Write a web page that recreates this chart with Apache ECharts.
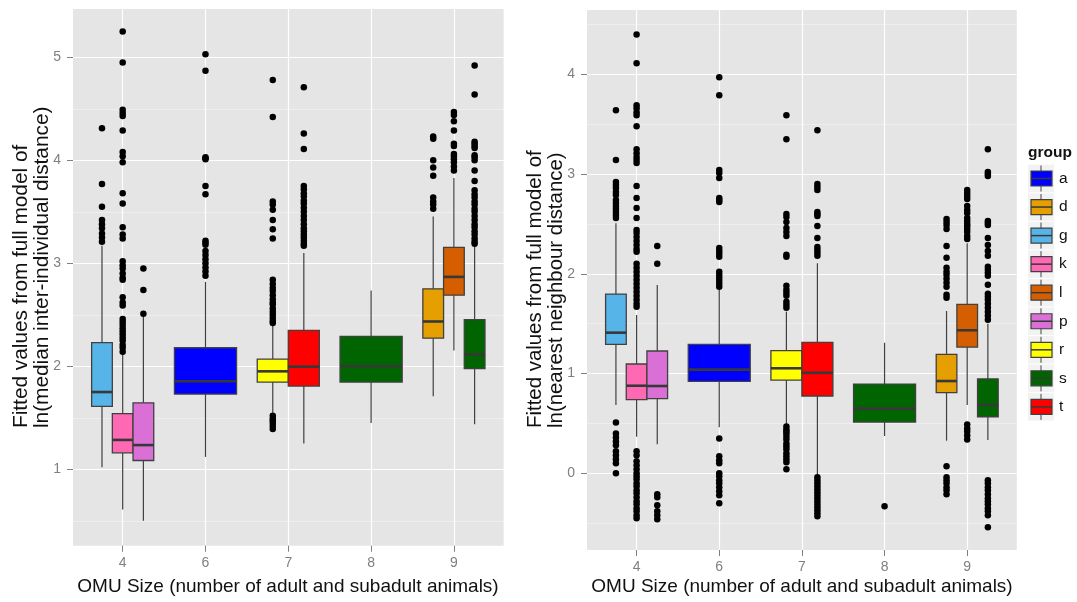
<!DOCTYPE html>
<html>
<head>
<meta charset="utf-8">
<script src="https://cdn.jsdelivr.net/npm/echarts@6/dist/echarts.min.js"></script>
<style>
  html, body { margin: 0; padding: 0; background: #ffffff; }
  #chart { width: 1077px; height: 602px; }
</style>
</head>
<body>
<div id="chart"></div>
<script>
// OMU sizes on the x axis and the groups shown in the legend
const sizes = ['4', '6', '7', '8', '9'];
const groups = ['a', 'd', 'g', 'k', 'l', 'p', 'r', 's', 't'];
const groupColors = ['#0000FF', '#E69F00', '#56B4E9', '#FF69B4', '#D55E00',
                     '#DA70D6', '#FFFF00', '#006400', '#FF0000'];

// one box per (size, group) pair, same order in both panels
const boxSize  = ['4', '4', '4', '6', '7', '7', '8', '9', '9', '9'];
const boxGroup = ['g', 'k', 'p', 'a', 'r', 't', 's', 'd', 'l', 's'];

// ln(median inter-individual distance): [lower whisker, Q1, median, Q3, upper whisker]
const interStats = [
  [1.02, 1.61, 1.75, 2.23, 3.17],
  [0.61, 1.16, 1.285, 1.54, 2.12],
  [0.50, 1.085, 1.235, 1.645, 2.48],
  [1.12, 1.73, 1.855, 2.18, 2.82],
  [1.55, 1.847, 1.951, 2.07, 2.39],
  [1.25, 1.808, 1.996, 2.348, 3.10],
  [1.45, 1.847, 2.0, 2.29, 2.735],
  [1.71, 2.273, 2.435, 2.752, 3.455],
  [2.154, 2.69, 2.868, 3.155, 3.827],
  [1.437, 1.977, 2.115, 2.454, 3.165]
];
const interOutliers = [
  [4.31, 3.77, 3.55, 3.42, 3.38, 3.34, 3.29, 3.25, 3.21],
  [5.25, 4.95, 4.49, 4.46, 4.43, 4.29, 4.08, 4.04, 3.98, 3.68, 3.58, 3.35, 3.28, 3.24,
   3.02, 2.98, 2.95, 2.9, 2.86, 2.84, 2.67, 2.62, 2.59, 2.46, 2.43, 2.4, 2.37, 2.34,
   2.31, 2.28, 2.25, 2.21, 2.18, 2.14],
  [2.95, 2.74, 2.51],
  [5.03, 4.87, 4.03, 4.02, 4.01, 3.75, 3.67, 3.22, 3.2, 3.18, 3.12, 3.08, 3.04, 3.0,
   2.96, 2.92, 2.88],
  [4.78, 4.42, 3.6, 3.57, 3.52, 3.42, 3.33, 3.24, 2.84, 2.8, 2.76, 2.73, 2.69, 2.65,
   2.62, 2.6, 2.56, 2.53, 2.5, 2.47, 2.44, 2.42, 1.52, 1.49, 1.47, 1.45, 1.42, 1.39],
  [4.71, 4.26, 4.11, 3.75, 3.72, 3.68, 3.65, 3.61, 3.58, 3.54, 3.5, 3.46, 3.42, 3.38,
   3.34, 3.31, 3.28, 3.25, 3.22, 3.19, 3.17],
  [],
  [4.23, 4.21, 4.0, 3.93, 3.85, 3.64, 3.6, 3.57, 3.53],
  [4.47, 4.44, 4.38, 4.29, 4.16, 4.14, 4.06, 4.04, 4.01, 3.98, 3.94, 3.9],
  [4.92, 4.64, 4.18, 4.16, 4.14, 4.12, 4.05, 4.03, 4.0, 3.9, 3.8, 3.71, 3.67, 3.64,
   3.6, 3.57, 3.53, 3.5, 3.46, 3.42, 3.38, 3.35, 3.31, 3.28, 3.24, 3.21, 3.19]
];

// ln(nearest neighbour distance)
const nearStats = [
  [0.685, 1.293, 1.41, 1.797, 2.506],
  [0.367, 0.738, 0.878, 1.096, 1.587],
  [0.291, 0.748, 0.875, 1.226, 1.888],
  [0.461, 0.922, 1.039, 1.293, 1.84],
  [0.484, 0.935, 1.053, 1.229, 1.62],
  [-0.02, 0.775, 1.008, 1.313, 2.105],
  [0.374, 0.514, 0.648, 0.895, 1.309],
  [0.327, 0.808, 0.925, 1.193, 1.627],
  [0.685, 1.266, 1.434, 1.694, 2.306],
  [0.334, 0.567, 0.685, 0.946, 1.5]
];
const nearOutliers = [
  [3.64, 3.14, 2.92, 2.89, 2.86, 2.82, 2.79, 2.74, 2.71, 2.68, 2.65, 2.62, 2.59, 2.56,
   0.51, 0.4, 0.36, 0.32, 0.28, 0.22, 0.18, 0.14, 0.1, 0.0],
  [4.4, 4.11, 3.69, 3.66, 3.62, 3.59, 3.48, 3.25, 3.21, 3.17, 3.14, 3.11, 2.88, 2.76,
   2.66, 2.56, 2.44, 2.41, 2.37, 2.33, 2.29, 2.25, 2.22, 2.1, 2.06, 2.02, 1.98, 1.94,
   1.9, 1.86, 1.82, 1.78, 1.74, 1.7, 1.67, 0.22, 0.18, 0.12, 0.08, 0.04, 0.0, -0.03,
   -0.06, -0.1, -0.13, -0.17, -0.2, -0.24, -0.28, -0.31, -0.35, -0.38, -0.42, -0.45],
  [2.28, 2.1, -0.21, -0.24, -0.32, -0.38, -0.42, -0.46],
  [3.97, 3.79, 3.04, 3.01, 2.96, 2.76, 2.74, 2.72, 2.26, 2.23, 2.2, 2.17, 2.02, 1.99,
   1.96, 1.93, 1.9, 1.87, 0.35, 0.17, 0.13, 0.1, 0.0, -0.03, -0.07, -0.1, -0.14, -0.18,
   -0.22, -0.3],
  [3.59, 3.35, 2.6, 2.57, 2.52, 2.46, 2.42, 2.38, 2.19, 2.17, 1.88, 1.84, 1.81, 1.78,
   1.72, 1.69, 1.66, 0.47, 0.44, 0.42, 0.4, 0.37, 0.34, 0.3, 0.27, 0.24, 0.2, 0.17,
   0.14, 0.11, 0.04],
  [3.44, 2.9, 2.87, 2.84, 2.62, 2.6, 2.58, 2.48, 2.36, 2.27, 2.24, 2.21, 2.18, -0.04,
   -0.07, -0.1, -0.13, -0.16, -0.19, -0.22, -0.25, -0.28, -0.31, -0.34, -0.37, -0.4, -0.43],
  [-0.33],
  [2.55, 2.52, 2.49, 2.45, 2.28, 2.16, 2.06, 2.02, 1.99, 1.95, 1.91, 1.87, 1.79, 1.76,
   0.07, -0.04, -0.07, -0.1, -0.14, -0.17, -0.21],
  [2.84, 2.81, 2.78, 2.75, 2.68, 2.64, 2.61, 2.56, 2.53, 2.5, 2.48, 2.45, 2.42, 2.38,
   2.35, 0.49, 0.45, 0.42, 0.38, 0.34],
  [3.25, 3.02, 3.0, 2.98, 2.53, 2.51, 2.49, 2.36, 2.29, 2.23, 2.18, 2.07, 2.04, 2.01,
   1.98, 1.89, 1.8, 1.77, 1.74, 1.7, 1.66, 1.62, 1.58, 1.54, -0.07, -0.1, -0.14, -0.17,
   -0.21, -0.25, -0.28, -0.31, -0.35, -0.38, -0.42, -0.54]
];

// axis breaks
const interTicks = [1, 2, 3, 4, 5];
const interMinorTicks = [0.5, 1.5, 2.5, 3.5, 4.5];
const nearTicks = [0, 1, 2, 3, 4];
const nearMinorTicks = [-0.5, 0.5, 1.5, 2.5, 3.5, 4.5];
const sizeTicks = [1, 2, 3, 4, 5];

const FONT = "'Liberation Sans', Arial, sans-serif";
const DODGE_WIDTH = 0.75;

// position of a box inside its size slot, ggplot-style dodging
function dodge(i) {
  const members = [];
  boxSize.forEach(function (s, j) { if (s === boxSize[i]) members.push(j); });
  const n = members.length;
  const k = members.indexOf(i);
  const w = DODGE_WIDTH / n;
  const x = sizes.indexOf(boxSize[i]) + 1 - DODGE_WIDTH / 2 + w * (k + 0.5);
  return { x: x, w: w };
}

function colorOf(g) { return groupColors[groups.indexOf(g)]; }

function renderBox(params, api) {
  const x = api.value(0);
  const w = api.value(6);
  const lo = api.coord([x, api.value(1)]);
  const q1 = api.coord([x, api.value(2)]);
  const md = api.coord([x, api.value(3)]);
  const q3 = api.coord([x, api.value(4)]);
  const hi = api.coord([x, api.value(5)]);
  const xl = api.coord([x - w / 2, api.value(3)])[0];
  const xr = api.coord([x + w / 2, api.value(3)])[0];
  const cx = lo[0];
  const whisker = { stroke: '#404040', lineWidth: 1.2 };
  return {
    type: 'group',
    children: [
      { type: 'line', shape: { x1: cx, y1: hi[1], x2: cx, y2: q3[1] }, style: whisker },
      { type: 'line', shape: { x1: cx, y1: q1[1], x2: cx, y2: lo[1] }, style: whisker },
      { type: 'rect', shape: { x: xl, y: q3[1], width: xr - xl, height: q1[1] - q3[1] },
        style: { fill: api.visual('color'), stroke: '#404040', lineWidth: 1.3 } },
      { type: 'line', shape: { x1: xl, y1: md[1], x2: xr, y2: md[1] },
        style: { stroke: '#383838', lineWidth: 2.6 } }
    ]
  };
}

function panelSeries(stats, outliers, xIndex, yIndex) {
  const boxes = stats.map(function (st, i) {
    const d = dodge(i);
    return { value: [d.x].concat(st).concat([d.w]), itemStyle: { color: colorOf(boxGroup[i]) } };
  });
  const points = [];
  outliers.forEach(function (arr, i) {
    const d = dodge(i);
    arr.forEach(function (v) { points.push([d.x, v]); });
  });
  return [
    { type: 'custom', xAxisIndex: xIndex, yAxisIndex: yIndex, renderItem: renderBox,
      data: boxes, encode: { x: 0, y: [1, 2, 3, 4, 5] }, z: 3, silent: true },
    { type: 'scatter', xAxisIndex: xIndex, yAxisIndex: yIndex, data: points,
      symbol: 'circle', symbolSize: 6.5, itemStyle: { color: '#000000', opacity: 1 },
      z: 4, silent: true }
  ];
}

function sizeAxis(gridIndex) {
  return {
    type: 'value', gridIndex: gridIndex, min: 0.4, max: 5.6, position: 'bottom',
    axisLine: { show: false, onZero: false },
    axisTick: { show: true, length: 6, customValues: sizeTicks,
                lineStyle: { color: '#7F7F7F', width: 1 } },
    axisLabel: { show: true, customValues: sizeTicks, margin: 10,
                 color: '#7F7F7F', fontSize: 14, fontFamily: FONT,
                 formatter: function (v) { return sizes[Math.round(v) - 1]; } },
    splitLine: { show: true, lineStyle: { color: '#FFFFFF', width: 1.2 } }
  };
}

function valueAxis(gridIndex, min, max, ticks) {
  return {
    type: 'value', gridIndex: gridIndex, min: min, max: max, position: 'left',
    axisLine: { show: false, onZero: false },
    axisTick: { show: true, length: 6, customValues: ticks,
                lineStyle: { color: '#7F7F7F', width: 1 } },
    axisLabel: { show: true, customValues: ticks, margin: 12,
                 color: '#7F7F7F', fontSize: 14, fontFamily: FONT },
    splitLine: { show: true, lineStyle: { color: '#FFFFFF', width: 1.2 } }
  };
}

function minorAxis(gridIndex, min, max, ticks) {
  return {
    type: 'value', gridIndex: gridIndex, min: min, max: max, position: 'right',
    axisLine: { show: false, onZero: false },
    axisTick: { show: false, customValues: ticks },
    axisLabel: { show: false, customValues: ticks },
    splitLine: { show: true, lineStyle: { color: '#F2F2F2', width: 0.7 } }
  };
}

// axis titles
const titleStyle = { fill: '#111111', fontSize: 19, fontFamily: FONT };
const yTitleStyle = { fill: '#111111', fontSize: 20, fontFamily: FONT,
                      align: 'left', verticalAlign: 'middle' };
const graphics = [
  { type: 'text', x: 288, y: 587, style: Object.assign({ text: 'OMU Size (number of adult and subadult animals)',
      align: 'center', verticalAlign: 'middle' }, titleStyle) },
  { type: 'text', x: 802, y: 587, style: Object.assign({ text: 'OMU Size (number of adult and subadult animals)',
      align: 'center', verticalAlign: 'middle' }, titleStyle) },
  { type: 'text', x: 21, y: 428, rotation: Math.PI / 2, scaleX: 1.04,
    style: Object.assign({ text: 'Fitted values from full model of' }, yTitleStyle) },
  { type: 'text', x: 42, y: 428, rotation: Math.PI / 2, scaleX: 1.04,
    style: Object.assign({ text: 'ln(median inter-individual distance)' }, yTitleStyle) },
  { type: 'text', x: 535, y: 428, rotation: Math.PI / 2, scaleX: 1.02,
    style: Object.assign({ text: 'Fitted values from full model of' }, yTitleStyle) },
  { type: 'text', x: 556, y: 428, rotation: Math.PI / 2, scaleX: 1.02,
    style: Object.assign({ text: 'ln(nearest neighbour distance)' }, yTitleStyle) },
  { type: 'text', x: 1028, y: 153, style: { text: 'group', fontSize: 15.5, fontWeight: 'bold',
      fontFamily: FONT, fill: '#111111', align: 'left', verticalAlign: 'middle' } }
];

// legend keys drawn as small boxplot glyphs
groups.forEach(function (g, i) {
  const cy = 178.5 + i * 28.55;
  graphics.push(
    { type: 'rect', shape: { x: 1028, y: cy - 13.8, width: 26, height: 27.6 }, style: { fill: '#F2F2F2' } },
    { type: 'line', shape: { x1: 1041, y1: cy - 13, x2: 1041, y2: cy + 13 }, style: { stroke: '#454545', lineWidth: 1 } },
    { type: 'rect', shape: { x: 1031, y: cy - 7.5, width: 21, height: 15 },
      style: { fill: groupColors[i], stroke: '#404040', lineWidth: 1.2 } },
    { type: 'line', shape: { x1: 1031, y1: cy, x2: 1052, y2: cy }, style: { stroke: '#383838', lineWidth: 1.5 } },
    { type: 'text', x: 1059, y: cy, style: { text: g, fontSize: 15.5, fontFamily: FONT, fill: '#111111',
      align: 'left', verticalAlign: 'middle' } }
  );
});

const option = {
  animation: false,
  backgroundColor: '#FFFFFF',
  grid: [
    { left: 73, top: 9, width: 430.6, height: 536.7, show: true, backgroundColor: '#E5E5E5', borderWidth: 0, containLabel: false },
    { left: 587, top: 10, width: 429.8, height: 540, show: true, backgroundColor: '#E5E5E5', borderWidth: 0, containLabel: false }
  ],
  xAxis: [sizeAxis(0), sizeAxis(1)],
  yAxis: [
    valueAxis(0, 0.258, 5.469, interTicks),
    minorAxis(0, 0.258, 5.469, interMinorTicks),
    valueAxis(1, -0.769, 4.645, nearTicks),
    minorAxis(1, -0.769, 4.645, nearMinorTicks)
  ],
  series: panelSeries(interStats, interOutliers, 0, 0)
    .concat(panelSeries(nearStats, nearOutliers, 1, 2)),
  graphic: graphics
};

const chart = echarts.init(document.getElementById('chart'), null, { renderer: 'canvas' });
chart.setOption(option);
</script>
</body>
</html>
